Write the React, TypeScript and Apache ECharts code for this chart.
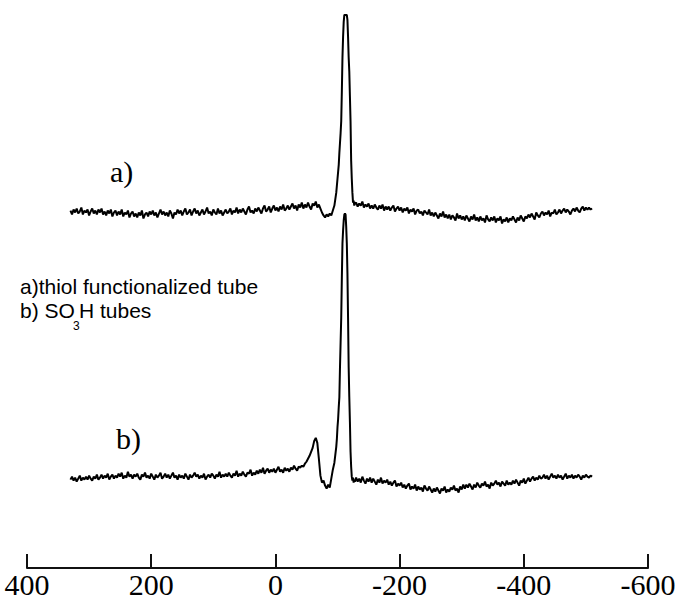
import React, { useEffect, useRef } from "react";
import * as echarts from "echarts";

// x axis (chemical shift, ppm) tick values
const xTickMin = -600;
const xTickMax = 400;
const xTickStep = 200;

// sampling of the traces (ppm)
const WING_STEP = 2.5;
const LEFT_START = 330;
const PEAK_START = -98;
const PEAK_STEP = 1;
const RIGHT_START = -130;

// intensity scale (arbitrary units, includes vertical stacking offset)
const Y_MAX = 572;

// trace a) thiol functionalized tube
const traceALeft = [
  360, 356, 361, 358, 362, 357, 359, 363, 356, 360,
  358, 361, 355, 359, 362, 357, 360, 356, 361, 358,
  362, 356, 359, 355, 360, 357, 361, 354, 358, 360,
  355, 359, 356, 361, 354, 358, 356, 360, 353, 357,
  359, 354, 357, 353, 358, 355, 360, 352, 356, 358,
  354, 359, 356, 360, 355, 358, 353, 357, 361, 356,
  359, 355, 358, 354, 360, 357, 352, 358, 356, 361,
  357, 360, 355, 359, 362, 356, 358, 361, 355, 359,
  362, 357, 360, 355, 358, 361, 356, 359, 363, 357,
  359, 355, 361, 358, 356, 362, 357, 360, 355, 358,
  361, 357, 359, 362, 356, 360, 358, 363, 357, 361,
  358, 362, 359, 356, 361, 364, 358, 360, 357, 362,
  359, 363, 360, 357, 362, 365, 359, 361, 364, 358,
  362, 365, 360, 363, 359, 364, 361, 366, 360, 362,
  365, 361, 364, 367, 362, 365, 360, 366, 363, 368,
  362, 366, 363, 368, 364, 361, 367, 365, 369, 363,
  366, 362, 358, 355, 353, 356, 354, 357, 355, 360, 365,
];
const traceAPeak = [
  378, 385, 392, 399, 406, 418, 428, 438, 450, 480, 514, 535, 550, 557, 557, 557,
  557, 557, 552, 535, 514, 500, 475, 450, 410, 392, 378, 368, 370, 365, 367,
];
const traceARight = [
  368, 364, 367, 365, 369, 363, 366, 364, 367, 362,
  365, 362, 366, 363, 361, 365, 362, 366, 360, 364,
  361, 364, 360, 363, 365, 359, 362, 364, 360, 363,
  358, 362, 360, 363, 357, 361, 359, 362, 356, 360,
  361, 357, 359, 355, 360, 358, 356, 361, 355, 358,
  354, 358, 355, 352, 357, 354, 359, 353, 356, 352,
  356, 351, 355, 353, 350, 357, 352, 355, 351, 354,
  350, 355, 352, 349, 354, 351, 356, 350, 353, 349,
  354, 350, 352, 348, 355, 351, 349, 353, 350, 354,
  348, 352, 350, 354, 347, 351, 349, 353, 348, 352,
  350, 354, 351, 348, 353, 350, 355, 352, 349, 354,
  352, 356, 353, 357, 354, 351, 358, 355, 353, 357,
  359, 355, 358, 356, 360, 354, 358, 357, 361, 356,
  358, 361, 357, 360, 362, 358, 361, 359, 356, 360,
  362, 359, 363, 360, 358, 362, 364, 360, 363, 361,
  363, 361, 362,
];

// trace b) SO3H tubes
const traceBLeft = [
  89, 92, 88, 91, 87, 90, 93, 88, 91, 89,
  92, 89, 93, 90, 88, 92, 90, 94, 89, 91,
  94, 90, 93, 91, 95, 89, 92, 94, 90, 93,
  91, 95, 92, 96, 90, 93, 91, 97, 92, 94,
  90, 94, 92, 95, 91, 89, 94, 92, 96, 91,
  93, 90, 95, 92, 89, 94, 91, 93, 96, 90,
  92, 95, 91, 94, 90, 93, 96, 91, 93, 89,
  94, 91, 93, 90, 95, 92, 89, 94, 91, 93,
  96, 92, 94, 90, 93, 91, 95, 89, 92, 94,
  91, 95, 93, 90, 94, 92, 97, 91, 94, 92,
  95, 92, 96, 93, 91, 95, 93, 98, 92, 95,
  93, 97, 94, 92, 96, 95, 99, 93, 96, 94,
  98, 95, 99, 96, 101, 95, 98, 100, 96, 99,
  97, 100, 96, 99, 102, 97, 99, 96, 101, 98,
  100, 97, 101, 99, 103, 100, 98, 102,
  101, 103, 102, 105, 107, 110, 113, 117, 121, 128, 131, 126,
  110, 93, 86, 88, 83, 80, 84, 81, 90, 99, 106,
];
const traceBPeak = [
  122, 130, 142, 150, 162, 172, 202, 227, 252, 292, 327, 340, 350, 356, 357, 356,
  344, 327, 297, 252, 202, 172, 147, 117, 102, 92, 88, 91, 86, 89, 87,
];
const traceBRight = [
  91, 87, 90, 86, 92, 88, 85, 90, 87, 91,
  86, 90, 87, 84, 89, 86, 91, 85, 88, 86,
  89, 84, 87, 83, 86, 88, 82, 85, 83, 86,
  81, 84, 80, 83, 85, 79, 82, 80, 84, 78,
  82, 79, 81, 77, 83, 80, 78, 82, 79, 76,
  80, 77, 81, 78, 75, 80, 78, 82, 76, 79,
  77, 81, 79, 83, 78, 80, 76, 82, 79, 84,
  80, 84, 81, 85, 82, 79, 84, 81, 86, 83,
  81, 85, 83, 87, 82, 84, 80, 86, 83, 85,
  88, 84, 86, 82, 87, 85, 83, 88, 84, 86,
  84, 88, 85, 89, 86, 83, 88, 86, 90, 85,
  88, 91, 87, 90, 92, 88, 91, 89, 93, 90,
  91, 94, 90, 93, 89, 92, 95, 91, 93, 90,
  94, 91, 93, 89, 92, 95, 90, 93, 91, 94,
  90, 93, 91, 94, 92, 89, 93, 91, 94, 92,
  91, 93, 92,
];

function buildTrace(left: number[], peak: number[], right: number[]): number[][] {
  const pts: number[][] = [];
  left.forEach((v, i) => pts.push([LEFT_START - WING_STEP * i, v]));
  peak.forEach((v, i) => pts.push([PEAK_START - PEAK_STEP * i, v]));
  right.forEach((v, i) => pts.push([RIGHT_START - WING_STEP * i, v]));
  return pts;
}

export default function App() {
  const ref = useRef<HTMLDivElement>(null);
  useEffect(() => {
    if (!ref.current) return;
    const chart = echarts.init(ref.current, undefined, { renderer: "svg" });
    const lineStyle = { color: "#000", width: 2 };
    chart.setOption({
      animation: false,
      backgroundColor: "#fff",
      grid: { left: 27, right: 32, top: 0, bottom: 27 },
      xAxis: {
        type: "value",
        inverse: true,
        min: xTickMin,
        max: xTickMax,
        interval: xTickStep,
        axisLine: { show: true, lineStyle: { color: "#111", width: 2 } },
        axisTick: { show: true, inside: true, length: 14, lineStyle: { color: "#111", width: 2 } },
        splitLine: { show: false },
        axisLabel: {
          color: "#000",
          fontFamily: "Liberation Serif",
          fontSize: 30,
          margin: 1,
        },
      },
      yAxis: { type: "value", min: 0, max: Y_MAX, show: false },
      series: [
        {
          type: "line",
          data: buildTrace(traceALeft, traceAPeak, traceARight),
          symbol: "none",
          lineStyle,
          silent: true,
        },
        {
          type: "line",
          data: buildTrace(traceBLeft, traceBPeak, traceBRight),
          symbol: "none",
          lineStyle,
          silent: true,
        },
      ],
      graphic: [
        {
          type: "text",
          left: 110,
          top: 156,
          style: { text: "a)", fontFamily: "Liberation Serif", fontSize: 30, fill: "#000" },
        },
        {
          type: "text",
          left: 116,
          top: 423,
          style: { text: "b)", fontFamily: "Liberation Serif", fontSize: 30, fill: "#000" },
        },
        {
          type: "text",
          left: 20,
          top: 276,
          style: { text: "a)thiol functionalized tube", fontFamily: "Liberation Sans", fontSize: 21, fill: "#000" },
        },
        {
          type: "text",
          left: 20,
          top: 300,
          style: { text: "b) SO", fontFamily: "Liberation Sans", fontSize: 21, fill: "#000" },
        },
        {
          type: "text",
          left: 73,
          top: 320,
          style: { text: "3", fontFamily: "Liberation Sans", fontSize: 12, fill: "#000" },
        },
        {
          type: "text",
          left: 79,
          top: 300,
          style: { text: "H tubes", fontFamily: "Liberation Sans", fontSize: 21, fill: "#000" },
        },
      ],
    });
    return () => chart.dispose();
  }, []);
  return (
    <div
      ref={ref}
      style={{ position: "fixed", left: 0, top: 0, width: 680, height: 599 }}
    />
  );
}
